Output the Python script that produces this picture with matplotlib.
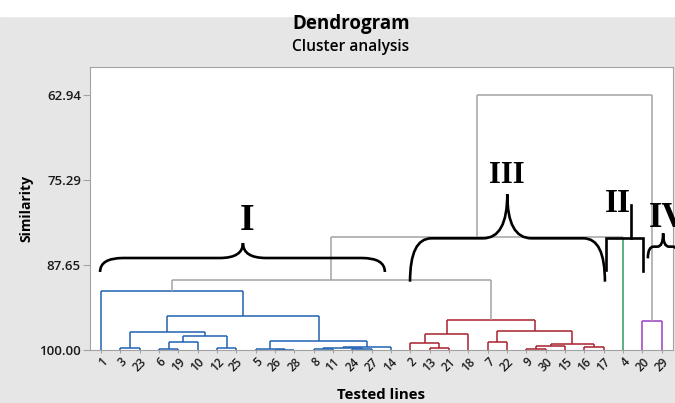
"""Dendrogram of tested lines (Minitab style) with hand-drawn cluster braces."""
import matplotlib

matplotlib.use("Agg")
import matplotlib.pyplot as plt
from matplotlib.path import Path
from matplotlib.patches import PathPatch, Rectangle

# leaf order along the x axis
LEAVES = ["1", "3", "23", "6", "19", "10", "12", "25", "5", "26", "28", "8", "11", "24",
          "27", "14", "2", "13", "21", "18", "7", "22", "9", "30", "15", "16", "17",
          "4", "20", "29"]

# merges: (new node, left child, right child, similarity level)
MERGES = [
    ("A", "3", "23", 99.70),
    ("B", "6", "19", 99.85),
    ("C", "B", "10", 98.90),
    ("D", "12", "25", 99.70),
    ("E", "C", "D", 97.90),
    ("F", "A", "E", 97.40),
    ("G", "26", "28", 99.95),
    ("H", "5", "G", 99.80),
    ("J", "8", "11", 99.80),
    ("K", "24", "27", 99.90),
    ("L", "J", "K", 99.65),
    ("M", "L", "14", 99.55),
    ("N", "H", "M", 98.65),
    ("P", "F", "N", 95.00),
    ("Q", "1", "P", 91.42),
    ("R1", "13", "21", 99.75),
    ("R2", "2", "R1", 99.05),
    ("R3", "R2", "18", 97.70),
    ("R4", "7", "22", 98.90),
    ("R5", "9", "30", 99.85),
    ("R6", "R5", "15", 99.40),
    ("R7", "16", "17", 99.60),
    ("R8", "R6", "R7", 99.20),
    ("R9", "R4", "R8", 97.30),
    ("R10", "R3", "R9", 95.65),
    ("V1", "20", "29", 95.78),
    ("S1", "Q", "R10", 89.83),
    ("S2", "S1", "4", 83.58),
    ("S3", "S2", "V1", 62.94),
]

CLUSTERS = {
    "I": ["1", "3", "23", "6", "19", "10", "12", "25", "5", "26", "28", "8", "11", "24", "27", "14"],
    "III": ["2", "13", "21", "18", "7", "22", "9", "30", "15", "16", "17"],
    "II": ["4"],
    "IV": ["20", "29"],
}
CLUSTER_COLORS = {"I": "#1f62b0", "III": "#a8202e", "II": "#2e9c5c", "IV": "#9b3dc4"}
LINK_GREY = "#a3a3a3"

Y_TICKS = [62.94, 75.29, 87.65, 100.00]

FONT = "Open Sans"


def brace(ax, x0, x1, xm, y_end, y_level, y_tip, r_end, r_tip):
    verts = [(x0, y_end), (x0, y_level), (x0 + r_end, y_level),
             (xm - r_tip, y_level), (xm, y_level), (xm, y_tip),
             (xm, y_level), (xm + r_tip, y_level),
             (x1 - r_end, y_level), (x1, y_level), (x1, y_end)]
    codes = [Path.MOVETO, Path.CURVE3, Path.CURVE3, Path.LINETO, Path.CURVE3, Path.CURVE3,
             Path.CURVE3, Path.CURVE3, Path.LINETO, Path.CURVE3, Path.CURVE3]
    ax.add_patch(PathPatch(Path(verts, codes), fill=False, lw=1.9, ec="black",
                           capstyle="butt", clip_on=False, zorder=5))


def numeral(ax, x, y, s, size):
    ax.text(x, y, s, ha="center", va="baseline", fontsize=size, weight="bold",
            family="Liberation Serif", color="black", zorder=6)


def main() -> None:
    leaf_cluster = {leaf: c for c, members in CLUSTERS.items() for leaf in members}

    fig = plt.figure(figsize=(6.75, 4.03), dpi=100, facecolor="#e6e6e6")
    fig.add_artist(Rectangle((0, 1 - 16 / 403), 1, 16 / 403, transform=fig.transFigure,
                             color="white", zorder=0))
    ax = fig.add_axes([90 / 675, 1 - 350 / 403, 583 / 675, 283.5 / 403])
    ax.set_facecolor("white")

    pos = {leaf: i for i, leaf in enumerate(LEAVES)}
    height = {leaf: 100.0 for leaf in LEAVES}
    members = {leaf: [leaf] for leaf in LEAVES}

    for node, left, right, sim in MERGES:
        mem = members[left] + members[right]
        groups = {leaf_cluster[m] for m in mem}
        color = CLUSTER_COLORS[groups.pop()] if len(groups) == 1 else LINK_GREY
        xl, xr = pos[left], pos[right]
        for child, x in ((left, xl), (right, xr)):
            c = color
            if child in leaf_cluster and len(CLUSTERS[leaf_cluster[child]]) == 1:
                c = CLUSTER_COLORS[leaf_cluster[child]]
            ax.plot([x, x], [height[child], sim], color=c, lw=1.1, solid_capstyle="butt")
        ax.plot([xl, xr], [sim, sim], color=color, lw=1.1, solid_capstyle="butt")
        pos[node] = (xl + xr) / 2
        height[node] = sim
        members[node] = mem

    ax.set_xlim(-0.57, 29.58)
    ax.set_ylim(100, 58.80)

    ax.set_xticks(range(len(LEAVES)), labels=LEAVES)
    for lab in ax.get_xticklabels():
        lab.set_rotation(45)
        lab.set_ha("right")
        lab.set_va("top")
        lab.set_rotation_mode("anchor")
        lab.set_fontsize(8.5)
        lab.set_family(FONT)
        lab.set_weight("semibold")
    ax.set_yticks(Y_TICKS, labels=[f"{v:.2f}" for v in Y_TICKS])
    for lab in ax.get_yticklabels():
        lab.set_fontsize(9.5)
        lab.set_family(FONT)
        lab.set_weight("semibold")
    ax.tick_params(axis="x", length=2.5, width=0.8, color=LINK_GREY, pad=1.5, labelcolor="#1a1a1a")
    ax.tick_params(axis="y", length=5, width=0.8, color=LINK_GREY, pad=1.5, labelcolor="#1a1a1a")
    for sp in ax.spines.values():
        sp.set_color(LINK_GREY)
        sp.set_linewidth(0.8)

    ax.set_ylabel("Similarity", fontsize=10, family=FONT, weight="bold")
    ax.yaxis.set_label_coords(-0.097, 0.5)
    ax.set_xlabel("Tested lines", fontsize=10.8, family=FONT, weight="bold")
    ax.xaxis.set_label_coords(0.5, -0.133)

    fig.text(351 / 675, 1 - 29 / 403, "Dendrogram", ha="center", va="baseline",
             fontsize=13.5, family=FONT, weight="bold")
    fig.text(351 / 675, 1 - 51 / 403, "Cluster analysis", ha="center", va="baseline",
             fontsize=11.2, family=FONT, weight="semibold")

    # cluster annotations
    brace(ax, -0.05, 14.68, 7.34, 88.66, 86.63, 84.45, 1.2, 1.2)
    numeral(ax, 7.55, 82.56, "I", 27)
    brace(ax, 15.98, 26.06, 21.01, 90.07, 83.77, 77.37, 1.1, 1.25)
    numeral(ax, 20.99, 75.78, "III", 22)
    ax.plot([26.10, 26.10, 28.05, 28.05], [88.37, 83.77, 83.77, 88.47], color="black",
            lw=1.9, solid_joinstyle="miter", clip_on=False, zorder=5)
    ax.plot([27.39, 27.39], [83.77, 78.92], color="black", lw=1.9, clip_on=False, zorder=5)
    numeral(ax, 26.72, 79.91, "II", 24)
    brace(ax, 28.28, 29.86, 29.07, 86.68, 84.98, 83.04, 0.3, 0.3)
    numeral(ax, 29.32, 82.08, "IV", 25)

    fig.savefig("out.png", dpi=100, facecolor=fig.get_facecolor())
    plt.close(fig)


if __name__ == "__main__":
    main()
